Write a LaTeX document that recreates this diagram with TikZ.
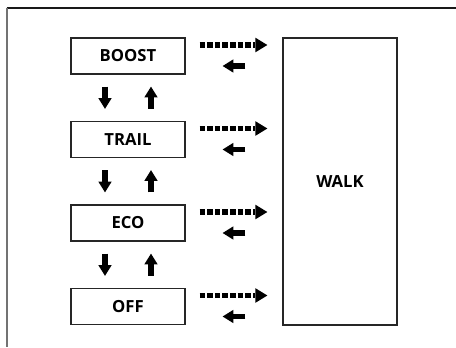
\documentclass[tikz,border=0pt]{standalone}
\usepackage{fontspec}
\setmainfont{Open Sans}
\usetikzlibrary{arrows.meta,calc}
\begin{document}
\begin{tikzpicture}[x=0.75pt,y=-0.75pt,
  modebox/.style={draw=black!85,line width=1pt,minimum width=114*0.75pt,minimum height=36*0.75pt,inner sep=0pt,font=\fontsize{12.5}{14}\selectfont\bfseries},
  dotarrow/.style={line width=4pt,dash pattern=on 4.2pt off 1.5pt,-{Triangle[length=9pt,width=11pt,line width=0pt]}},
  solidarrow/.style={line width=3.8pt,-{Triangle[length=8pt,width=10pt,line width=0pt]}},
  framegray/.style={draw=black!55,line width=1.6pt},
  frametop/.style={draw=black!90,line width=1.2pt}]
\useasboundingbox (0,0) rectangle (456,347);
\draw[frametop] (6.5,8) -- (456,8);
\draw[framegray] (7,8) -- (7,347);
\node[modebox] (boost) at (128,56) {BOOST};
\node[modebox] (trail) at (128,139.5) {TRAIL};
\node[modebox] (eco) at (128,223) {ECO};
\node[modebox] (off) at (128,306.5) {OFF};
\node[modebox,minimum height=287*0.75pt] (walk) at (340,181.5) {WALK};
\foreach \b in {boost,trail,eco,off}{
  \coordinate (\b-o) at ($(\b.east)+(14,-11)$);
  \coordinate (\b-i) at ($(\b.east)+(37,10)$);
  \draw[dotarrow] (\b-o) -- (\b-o -| walk.west) [shorten >=15*0.75pt];
  \draw[solidarrow] ($(\b-o -| walk.west)+(-37,21)$) -- (\b-i);
}
\foreach \a/\b in {boost/trail,trail/eco,eco/off}{
  \draw[solidarrow,shorten <=12*0.75pt,shorten >=12*0.75pt] ($(\a.south)+(-23,0)$) -- ($(\b.north)+(-23,0)$);
  \draw[solidarrow,shorten <=12*0.75pt,shorten >=12*0.75pt] ($(\b.north)+(23,0)$) -- ($(\a.south)+(23,0)$);
}
\end{tikzpicture}
\end{document}
